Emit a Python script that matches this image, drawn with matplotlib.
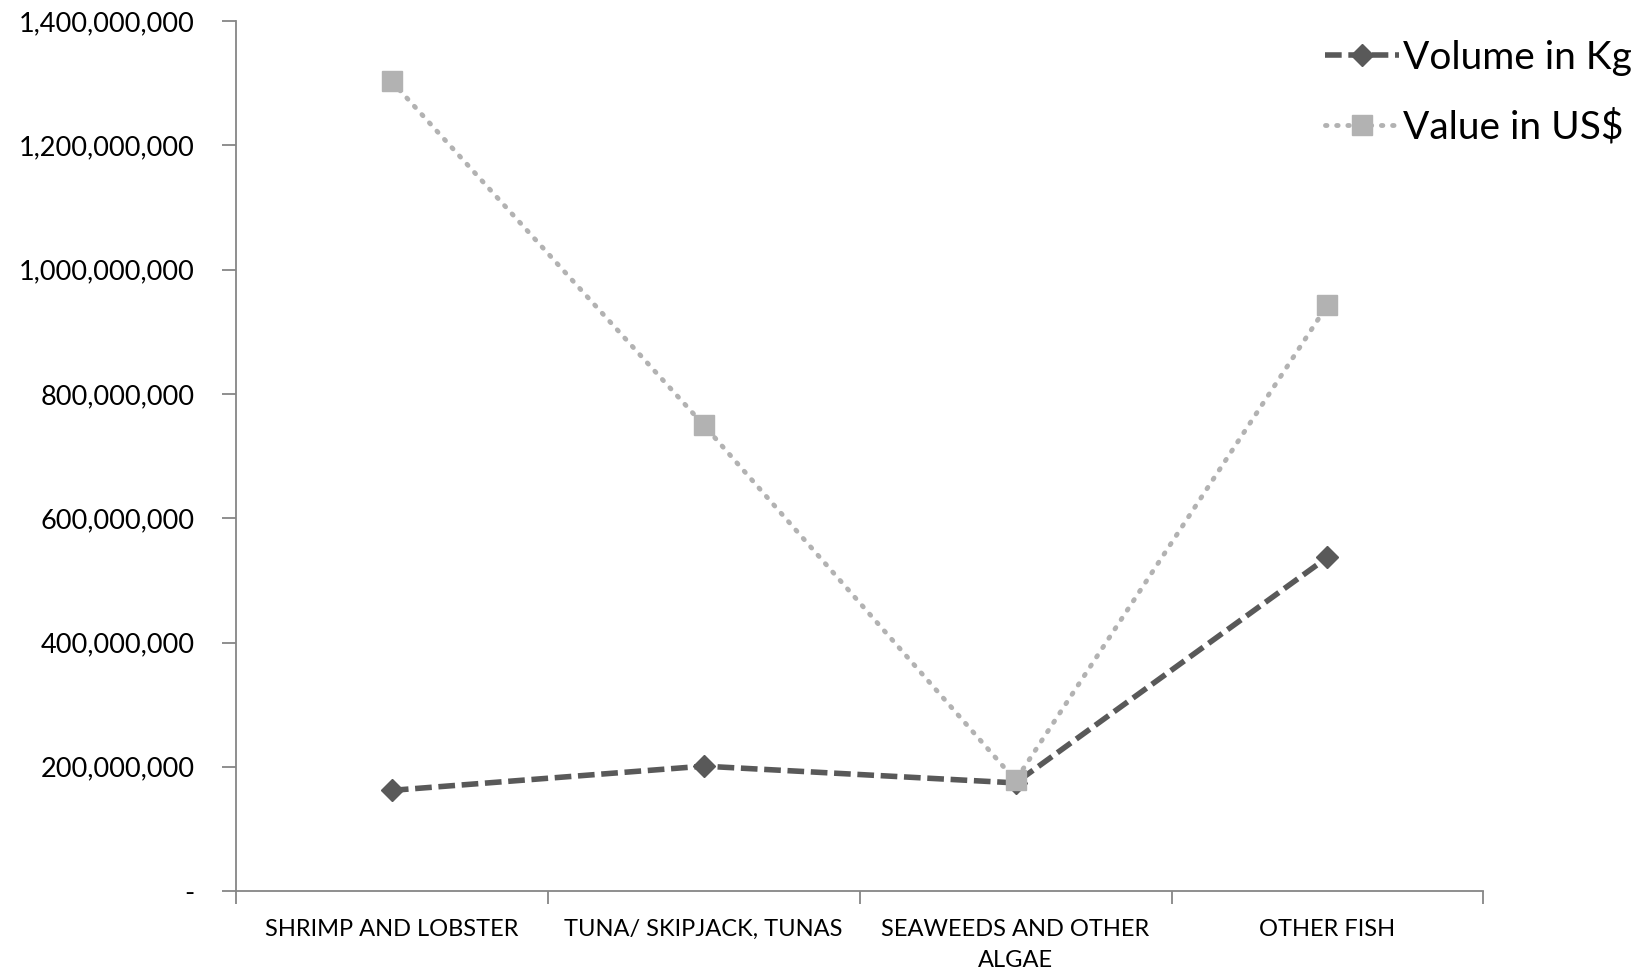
import numpy as np
import matplotlib
matplotlib.use('Agg')
import matplotlib.pyplot as plt
from matplotlib.ticker import FuncFormatter, FixedLocator

plt.rcParams['font.family'] = ['Lato', 'DejaVu Sans']

categories = ['SHRIMP AND LOBSTER', 'TUNA/ SKIPJACK, TUNAS',
              'SEAWEEDS AND OTHER\nALGAE', 'OTHER FISH']
volume_kg = [162e6, 201e6, 174e6, 537e6]
value_usd = [1303e6, 750e6, 178e6, 943e6]
yticks = [0, 200e6, 400e6, 600e6, 800e6, 1000e6, 1200e6, 1400e6]

fig = plt.figure(figsize=(16.5, 9.74), dpi=100)
ax = fig.add_axes([0.143, 0.0852, 0.756, 0.893])

x = np.arange(len(categories))
ax.plot(x, volume_kg, color='#595959', linestyle=(0, (3, 1.2)), linewidth=4,
        marker='D', markersize=11, label='Volume in Kg')
ax.plot(x, value_usd, color='#b2b2b2', linestyle=(0, (0.3, 2.0)), linewidth=3.5,
        dash_capstyle='round', marker='s', markersize=15, label='Value in US$')

ax.set_xlim(-0.5, len(categories) - 0.5)
ax.set_ylim(0, 1400e6)
ax.set_yticks(yticks)
ax.yaxis.set_major_formatter(FuncFormatter(lambda v, p: '-' if v == 0 else f'{v:,.0f}'))
ax.set_xticks(x)
ax.set_xticklabels(categories, fontsize=17, linespacing=1.6)
ax.xaxis.set_minor_locator(FixedLocator(np.arange(len(categories) + 1) - 0.5))
ax.tick_params(axis='x', which='major', length=0, pad=20)
ax.tick_params(axis='x', which='minor', length=9, color='#868686', width=1.3)
ax.tick_params(axis='y', length=10, color='#868686', width=1.3, labelsize=19.5, pad=20)

for s in ['top', 'right']:
    ax.spines[s].set_visible(False)
for s in ['left', 'bottom']:
    ax.spines[s].set_color('#868686')
    ax.spines[s].set_linewidth(1.3)

fig.legend(loc='upper right', bbox_to_anchor=(1.01, 0.995), frameon=False,
           fontsize=28, handlelength=1.9, handletextpad=0.1, labelspacing=0.85)

fig.savefig('out.png', dpi=100)
